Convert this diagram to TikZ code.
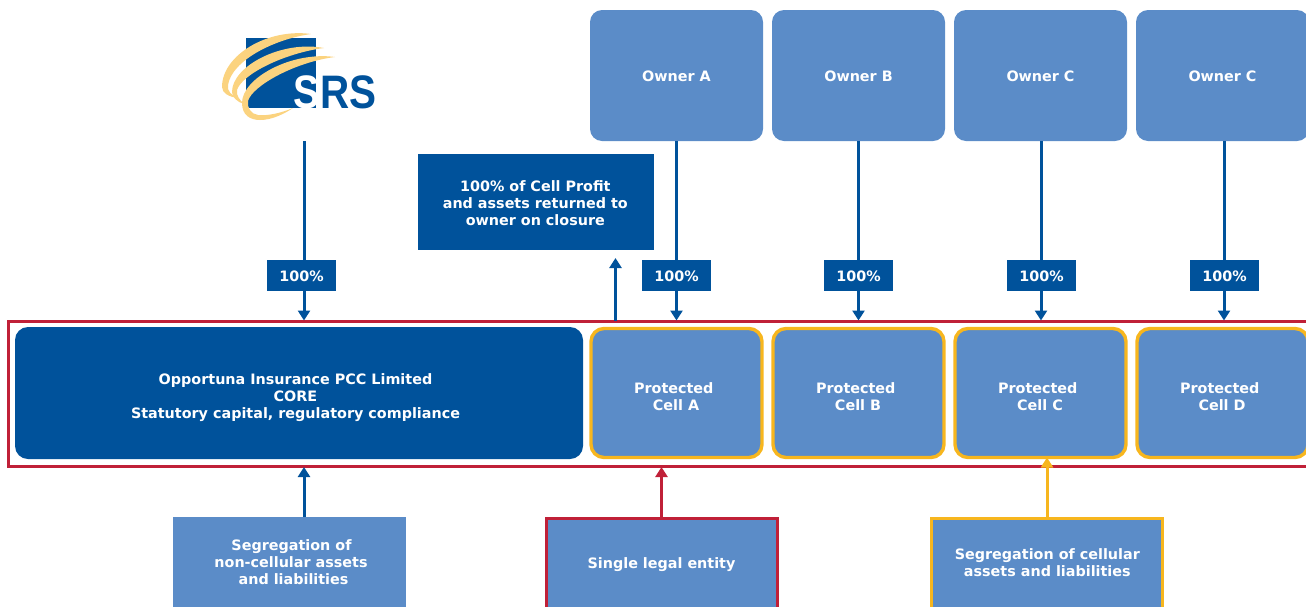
\documentclass[tikz,border=0pt]{standalone}
\usepackage{fontspec}
\setmainfont{DejaVu Sans}
\newfontfamily\logofont{Liberation Sans}
\usetikzlibrary{arrows.meta,calc}
\definecolor{darkblue}{RGB}{0,82,155}
\definecolor{midblue}{RGB}{91,140,200}
\definecolor{framered}{RGB}{192,32,56}
\definecolor{celly}{RGB}{247,182,30}
\definecolor{logoy}{RGB}{251,211,127}
\newcommand{\kernsp}[1]{\mbox{\hspace{#1}}}
\tikzset{
  x=1pt,y=-1pt,
  lbl/.style={text=white,font=\fontsize{14.35}{17}\selectfont\bfseries,align=center,inner sep=0pt,outer sep=0pt},
  ownerbox/.style={fill=midblue,rounded corners=12pt,minimum width=173pt,minimum height=131pt,inner sep=0pt,outer sep=0pt},
  cellbox/.style={fill=midblue,draw=celly,line width=3.4pt,rounded corners=13pt,minimum width=171pt,minimum height=129pt,inner sep=0pt,outer sep=0pt},
  corebox/.style={fill=darkblue,rounded corners=13pt,minimum width=568pt,minimum height=132pt,inner sep=0pt,outer sep=0pt},
  pct/.style={fill=darkblue,minimum width=69pt,minimum height=31pt,inner sep=0pt,outer sep=0pt},
  callout/.style={fill=darkblue,minimum width=236pt,minimum height=96pt,inner sep=0pt,outer sep=0pt},
  plainnote/.style={lbl,fill=midblue,minimum width=233pt,minimum height=92pt},
  framednote/.style={fill=midblue,line width=3pt,minimum width=231pt,minimum height=90pt,inner sep=0pt,outer sep=0pt},
  conn/.style={line width=3pt,-{Triangle[width=12pt,length=10pt]}},
}
\begin{document}
\begin{tikzpicture}
\useasboundingbox (0,0) rectangle (1306,606);
\clip (0,0) rectangle (1306,606);
% logo
\fill[darkblue] (246,38) rectangle (316,108);
\node[font=\logofont\bfseries\fontsize{47}{47}\selectfont,text=white,inner sep=0pt,anchor=base,xscale=.84,transform shape] (logoS) at (307,108) {S};
\node[font=\logofont\bfseries\fontsize{47}{47}\selectfont,text=darkblue,inner sep=0pt,anchor=base west,xscale=.86,transform shape] (logoRS) at (320,108) {RS};
\fill[logoy] (311,34) .. controls (268,28) and (222,55) .. (222,87)
  .. controls (222,93) and (229,97) .. (238,98)
  .. controls (231,95) and (227,91) .. (228,85)
  .. controls (232,60) and (275,39) .. (311,34) -- cycle;
\fill[logoy] (324,48) .. controls (282,40) and (232,66) .. (232,92)
  .. controls (232,97) and (237,102) .. (244,104)
  .. controls (240,100) and (236,96) .. (237,90)
  .. controls (242,74) and (285,53) .. (324,48) -- cycle;
\fill[logoy] (335,57) .. controls (292,51) and (242,78) .. (242,103)
  .. controls (242,115) and (250,120) .. (260,120)
  .. controls (272,120) and (284,114) .. (293,108)
  .. controls (281,113) and (268,116) .. (258,115)
  .. controls (251,114) and (247,108) .. (248,101)
  .. controls (252,86) and (295,62) .. (335,57) -- cycle;
\coordinate (logoFoot) at (304,141);
% frame
\node[draw=framered,line width=3pt,minimum width=1320pt,minimum height=144.5pt,inner sep=0pt,outer sep=1pt,anchor=north west] (frame) at (7.5,320.5) {};
% upper boxes
\node[ownerbox] (ownerA) at (676.5,75.5) {};
\node[ownerbox] (ownerB) at (858.5,75.5) {};
\node[ownerbox] (ownerC) at (1040.5,75.5) {};
\node[ownerbox] (ownerD) at (1222.5,75.5) {};
\node[lbl] (ownerAText) at (676.5,76.5) {Owner A};
\node[lbl] (ownerBText) at (858.5,76.5) {Owner B};
\node[lbl] (ownerCText) at (1040.5,76.5) {Owner C};
\node[lbl] (ownerDText) at (1222.5,76.5) {Owner C};
% cells
\node[corebox] (core) at (299,393) {};
\node[lbl] (coreText) at (295.5,398) {Opportuna Insurance PCC Limited\\CORE\\Statutory capital, regulatory compliance};
\node[cellbox] (cellA) at (676.5,393) {};
\node[cellbox] (cellB) at (858.5,393) {};
\node[cellbox] (cellC) at (1040.5,393) {};
\node[cellbox] (cellD) at (1222.5,393) {};
\node[lbl] (cellAText) at (676,396.5) {Protected\kernsp{4.5pt}\\Cell A};
\node[lbl] (cellBText) at (858,396.5) {Protected\kernsp{4.5pt}\\Cell B};
\node[lbl] (cellCText) at (1040,396.5) {Protected\kernsp{4.5pt}\\Cell C};
\node[lbl] (cellDText) at (1222,396.5) {Protected\kernsp{4.5pt}\\Cell D};
% callout
\node[callout] (profit) at (536,202) {};
\node[lbl] (profitText) at (535.3,203.5) {100\% of Cell Profit\\and assets returned to\\owner on closure};
\coordinate (upTip) at (615.5,258);
% bottom notes
\node[plainnote] (segNon) at (289.5,562.5) {\kernsp{4pt}Segregation of\\\kernsp{3pt}non-cellular assets\\\kernsp{8pt}and liabilities};
\node[framednote,draw=framered] (legal) at (661.5,563) {};
\node[lbl] (legalText) at (661.5,564.5) {Single legal entity};
\node[framednote,draw=celly] (segCell) at (1047,563) {};
\node[lbl] (segCellText) at (1047.3,563) {Segregation of cellular\\assets and liabilities};
% connectors
\draw[conn,darkblue] (logoFoot) -- (logoFoot |- frame.north);
\draw[conn,darkblue] (ownerA.south) -- (ownerA.south |- frame.north);
\draw[conn,darkblue] (ownerB.south) -- (ownerB.south |- frame.north);
\draw[conn,darkblue] ([xshift=.5pt]ownerC.south) -- ([xshift=.5pt]ownerC.south |- frame.north);
\draw[conn,darkblue] ([xshift=1.5pt]ownerD.south) -- ([xshift=1.5pt]ownerD.south |- frame.north);
\draw[conn,darkblue] (upTip |- frame.north) -- (upTip);
\coordinate (segNonTop) at (304,517);
\draw[conn,darkblue] (segNonTop) -- (segNonTop |- frame.south);
\draw[conn,framered] (legal.north) -- (legal.north |- frame.south);
\draw[conn,celly] (segCell.north) -- ($(segCell.north |- cellC.south)$);
% percent tags
\node[pct] (p0) at (301.5,275.5) {};
\node[pct] (p1) at (676.5,275.5) {};
\node[pct] (p2) at (858.5,275.5) {};
\node[pct] (p3) at (1041.5,275.5) {};
\node[pct] (p4) at (1224.5,275.5) {};
\node[lbl] (p0Text) at (301.5,276) {100\%};
\node[lbl] (p1Text) at (676.5,276) {100\%};
\node[lbl] (p2Text) at (858.5,276) {100\%};
\node[lbl] (p3Text) at (1041.5,276) {100\%};
\node[lbl] (p4Text) at (1224.5,276) {100\%};
\end{tikzpicture}
\end{document}
